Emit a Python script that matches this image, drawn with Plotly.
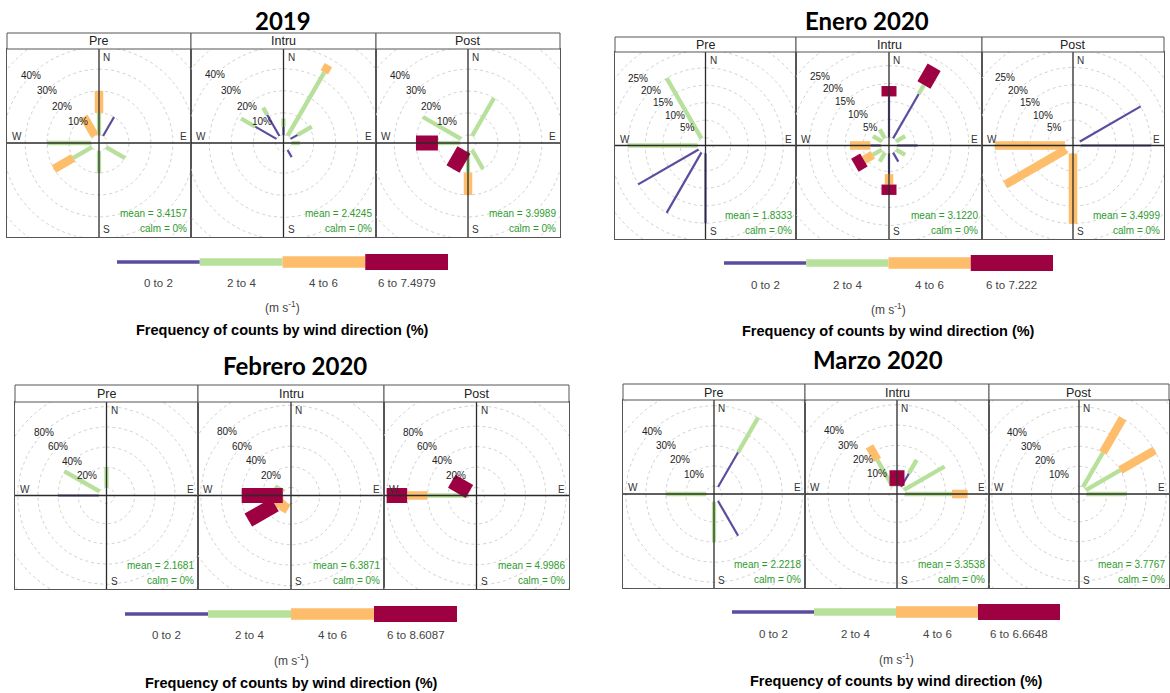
import math
import plotly.graph_objects as go

FIG_W, FIG_H = 1170, 693

# Speed bins (m/s) and their colours / paddle widths
SPEED_BREAKS = [0, 2, 4, 6]
BIN_COLOURS = ["#5B4CA0", "#B7E09A", "#FDBD6A", "#9E0142"]
PADDLE_PX = [2.2, 4.3, 8.5, 15.0]
KEY_PX = [3.5, 7.5, 11.5, 16.0]
PERIODS = ["Pre", "Intru", "Post"]

# Frequency of counts (%) by wind direction (degrees),
# split into speed bins [0-2, 2-4, 4-6, 6-max]
wr2019_pre = {0: [0, 10, 10, 0], 30: [10, 0, 0, 0], 120: [0, 10, 0, 0],
              180: [0, 10, 0, 0], 240: [0, 10, 10, 0], 270: [0, 20, 0, 0],
              330: [0, 0, 10, 0]}
wr2019_intru = {0: [3.7, 3.7, 0, 0], 30: [0, 33.3, 3.7, 0], 60: [3.7, 7.4, 0, 0],
                90: [0, 3.7, 0, 0], 150: [3.7, 0, 0, 0], 300: [11.1, 7.4, 0, 0],
                330: [11.1, 3.7, 0, 0]}
wr2019_post = {30: [0, 20, 0, 0], 150: [0, 10, 0, 0], 180: [0, 10, 10, 0],
               210: [0, 0, 0, 10], 270: [0, 10, 0, 10], 300: [0, 20, 0, 0]}

wrEne_pre = {180: [20, 0, 0, 0], 210: [20, 0, 0, 0], 240: [20, 0, 0, 0],
             270: [0, 20, 0, 0], 330: [0, 20, 0, 0]}
wrEne_intru = {0: [11.4, 0, 0, 2.9], 30: [14.3, 2.9, 0, 5.7], 60: [0, 2.9, 0, 0],
               90: [5.7, 0, 0, 0], 120: [0, 2.9, 0, 0], 150: [2.9, 0, 0, 0],
               180: [5.7, 0, 2.9, 2.9], 210: [0, 2.9, 0, 0], 240: [0, 2.9, 2.9, 2.9],
               270: [2.9, 0, 5.7, 0], 300: [0, 2.9, 0, 0], 330: [0, 2.9, 0, 0]}
wrEne_post = {60: [20, 0, 0, 0], 90: [20, 0, 0, 0], 180: [0, 0, 20, 0],
              240: [0, 0, 20, 0], 270: [0, 0, 20, 0]}

wrFeb_pre = {0: [0, 20, 0, 0], 270: [40, 0, 0, 0], 300: [0, 40, 0, 0]}
wrFeb_intru = {210: [0, 0, 10, 0], 240: [0, 0, 10, 30], 270: [0, 0, 0, 40],
               300: [0, 10, 0, 0]}
wrFeb_post = {270: [0, 40, 20, 20], 300: [0, 0, 0, 20]}

wrMar_pre = {30: [20, 20, 0, 0], 150: [20, 0, 0, 0], 180: [0, 20, 0, 0],
             270: [0, 20, 0, 0]}
wrMar_intru = {0: [0, 0, 0, 7.7], 30: [7.7, 7.7, 0, 0], 60: [0, 23.1, 0, 0],
               90: [0, 23.1, 7.7, 0], 330: [0, 15.4, 7.7, 0]}
wrMar_post = {30: [0, 20, 20, 0], 60: [0, 20, 20, 0], 90: [0, 20, 0, 0]}

# Mean wind speed per period and top of the last speed bin
means_2019 = ["3.4157", "2.4245", "3.9989"]
means_ene = ["1.8333", "3.1220", "3.4999"]
means_feb = ["2.1681", "6.3871", "4.9986"]
means_mar = ["2.2218", "3.3538", "3.7767"]
top_speeds = ["7.4979", "7.222", "8.6087", "6.6648"]
titles = ["2019", "Enero 2020", "Febrero 2020", "Marzo 2020"]
ring_steps = [10, 5, 20, 10]

# Page placement of each block (pixels)
frames = [
    dict(edges=[7, 191, 376, 560], top=33, strip=49, bottom=237, title=(283, 21),
         key_x=(117, 448), key_y=262, key_lab=283, unit_y=307, cap_y=330),
    dict(edges=[615, 796, 982, 1164], top=37, strip=52, bottom=239, title=(867, 21),
         key_x=(724, 1053), key_y=263, key_lab=285, unit_y=309, cap_y=331),
    dict(edges=[15, 198, 384, 569], top=385, strip=402, bottom=589, title=(295, 365),
         key_x=(125, 457), key_y=614, key_lab=635, unit_y=660, cap_y=683),
    dict(edges=[623, 805, 989, 1169], top=384, strip=400, bottom=588, title=(878, 360),
         key_x=(732, 1060), key_y=612, key_lab=634, unit_y=659, cap_y=681),
]

blocks = [
    ([wr2019_pre, wr2019_intru, wr2019_post], means_2019),
    ([wrEne_pre, wrEne_intru, wrEne_post], means_ene),
    ([wrFeb_pre, wrFeb_intru, wrFeb_post], means_feb),
    ([wrMar_pre, wrMar_intru, wrMar_post], means_mar),
]


def px_x(p):
    return p / FIG_W


def px_y(p):
    return 1 - p / FIG_H


def axis_names(n):
    s = "" if n == 1 else str(n)
    return "x" + s, "y" + s, "xaxis" + s, "yaxis" + s


def paper_text(xp, yp, text, font):
    return dict(x=px_x(xp), y=px_y(yp), xref="paper", yref="paper", text=text,
                showarrow=False, xanchor="center", yanchor="middle", font=font)


BORDER = "#555555"
TEXT_DARK = "#222222"
CALM_COL = "#2E9B2E"

traces, annotations, shapes = [], [], []
axes = {}
ax = 0

for bi, (roses, means) in enumerate(blocks):
    fr = frames[bi]
    step = ring_steps[bi]
    max_freq = max(sum(v) for rose in roses for v in rose.values())
    offset = 0.1 * max_freq
    lim = 1.03 * (max_freq + offset)

    for i, (period, rose, mean) in enumerate(zip(PERIODS, roses, means)):
        ax += 1
        xn, yn, xa, ya = axis_names(ax)
        x0, x1 = fr["edges"][i], fr["edges"][i + 1]
        half_w = (x1 - x0) / 2
        half_h = (fr["bottom"] - fr["strip"]) / 2
        k = half_w / lim
        xr, yr = lim, half_h / k
        common = dict(showline=True, mirror=True, linecolor=BORDER, linewidth=1,
                      showgrid=False, zeroline=False, showticklabels=False,
                      ticks="", fixedrange=True)
        axes[xa] = dict(domain=[px_x(x0), px_x(x1)], range=[-xr, xr], anchor=yn, **common)
        axes[ya] = dict(domain=[px_y(fr["bottom"]), px_y(fr["strip"])],
                        range=[-yr, yr], anchor=xn, **common)

        # concentric grid rings, starting with the calm hub
        rx, ry = [], []
        r = offset
        corner = math.hypot(xr, yr)
        while r < corner:
            for t in range(0, 361, 3):
                a = math.radians(t)
                rx.append(r * math.sin(a))
                ry.append(r * math.cos(a))
            rx.append(None)
            ry.append(None)
            r += step
        traces.append(go.Scatter(x=rx, y=ry, mode="lines", xaxis=xn, yaxis=yn,
                                 line=dict(color="#d2d2d2", width=1, dash="dot"),
                                 hoverinfo="skip", showlegend=False))

        # stacked paddles, one trace per speed bin
        for b in range(len(SPEED_BREAKS)):
            sx, sy = [], []
            for d in sorted(rose):
                vals = rose[d]
                if vals[b] <= 0:
                    continue
                r0 = offset + sum(vals[:b])
                r1 = r0 + vals[b]
                a = math.radians(d)
                sx += [r0 * math.sin(a), r1 * math.sin(a), None]
                sy += [r0 * math.cos(a), r1 * math.cos(a), None]
            if sx:
                traces.append(go.Scatter(x=sx, y=sy, mode="lines", xaxis=xn, yaxis=yn,
                                         line=dict(color=BIN_COLOURS[b], width=PADDLE_PX[b]),
                                         hoverinfo="skip", showlegend=False))

        # compass cross
        traces.append(go.Scatter(x=[-xr, xr, None, 0, 0], y=[0, 0, None, -yr, yr],
                                 mode="lines", xaxis=xn, yaxis=yn,
                                 line=dict(color="#2a2a2a", width=1.3),
                                 hoverinfo="skip", showlegend=False))

        small = dict(size=10, color="#333333")
        annotations += [
            dict(x=0, y=yr, xref=xn, yref=yn, text="N", showarrow=False,
                 xanchor="left", yanchor="top", xshift=2, yshift=-1, font=small),
            dict(x=0, y=-yr, xref=xn, yref=yn, text="S", showarrow=False,
                 xanchor="left", yanchor="bottom", xshift=2, yshift=0, font=small),
            dict(x=-xr, y=0, xref=xn, yref=yn, text="W", showarrow=False,
                 xanchor="left", yanchor="bottom", xshift=3, yshift=-1, font=small),
            dict(x=xr, y=0, xref=xn, yref=yn, text="E", showarrow=False,
                 xanchor="right", yanchor="bottom", xshift=-2, yshift=-1, font=small),
        ]

        # ring labels along the NW diagonal
        v = step
        while v <= max_freq + offset + 1e-9:
            rr = offset + v
            annotations.append(dict(x=-rr * math.sin(math.pi / 4), y=rr * math.cos(math.pi / 4),
                                    xref=xn, yref=yn, text=f"{v}%", showarrow=False,
                                    xanchor="center", yanchor="middle",
                                    font=dict(size=10, color=TEXT_DARK)))
            v += step

        annotations += [
            dict(x=xr, y=-yr, xref=xn, yref=yn, text=f"mean = {mean}", showarrow=False,
                 xanchor="right", yanchor="bottom", xshift=-2, yshift=16,
                 font=dict(size=10, color=CALM_COL)),
            dict(x=xr, y=-yr, xref=xn, yref=yn, text="calm = 0%", showarrow=False,
                 xanchor="right", yanchor="bottom", xshift=-2, yshift=1,
                 font=dict(size=10, color=CALM_COL)),
        ]

        # strip header
        shapes.append(dict(type="rect", xref="paper", yref="paper",
                           x0=px_x(x0), x1=px_x(x1), y0=px_y(fr["strip"]), y1=px_y(fr["top"]),
                           line=dict(color=BORDER, width=1), fillcolor="white"))
        annotations.append(paper_text((x0 + x1) / 2, (fr["top"] + fr["strip"]) / 2 + 0.5,
                                      period, dict(size=12.5, color=TEXT_DARK)))

    # block title
    annotations.append(paper_text(fr["title"][0], fr["title"][1], f"<b>{titles[bi]}</b>",
                                  dict(family="Lato, sans-serif", size=24, color="black")))

    # speed key
    ax += 1
    xn, yn, xa, ya = axis_names(ax)
    kx0, kx1 = fr["key_x"]
    ky = fr["key_y"]
    axes[xa] = dict(domain=[px_x(kx0), px_x(kx1)], range=[0, len(SPEED_BREAKS)],
                    anchor=yn, visible=False, fixedrange=True)
    axes[ya] = dict(domain=[px_y(ky + 10), px_y(ky - 10)], range=[-1, 1],
                    anchor=xn, visible=False, fixedrange=True)
    labels = [f"{SPEED_BREAKS[j]} to {SPEED_BREAKS[j + 1]}" for j in range(len(SPEED_BREAKS) - 1)]
    labels.append(f"{SPEED_BREAKS[-1]} to {top_speeds[bi]}")
    for b in range(len(SPEED_BREAKS)):
        traces.append(go.Scatter(x=[b, b + 1], y=[0, 0], mode="lines", xaxis=xn, yaxis=yn,
                                 line=dict(color=BIN_COLOURS[b], width=KEY_PX[b]),
                                 hoverinfo="skip", showlegend=False))
        annotations.append(dict(x=b + 0.5, y=px_y(fr["key_lab"]), xref=xn, yref="paper",
                                text=labels[b], showarrow=False,
                                xanchor="center", yanchor="middle",
                                font=dict(size=11.5, color="#444444")))
    kc = (kx0 + kx1) / 2
    annotations += [
        paper_text(kc, fr["unit_y"], "(m s<sup>-1</sup>)", dict(size=12, color="#444444")),
        paper_text(kc, fr["cap_y"], "<b>Frequency of counts by wind direction (%)</b>",
                   dict(size=14.5, color="black")),
    ]

fig = go.Figure(data=traces)
fig.update_layout(
    width=FIG_W, height=FIG_H, margin=dict(l=0, r=0, t=0, b=0),
    paper_bgcolor="white", plot_bgcolor="white", showlegend=False,
    font=dict(family="Liberation Sans, Arial, sans-serif"),
    annotations=annotations, shapes=shapes, **axes,
)
fig.write_html("out.html", config={"displayModeBar": False})
